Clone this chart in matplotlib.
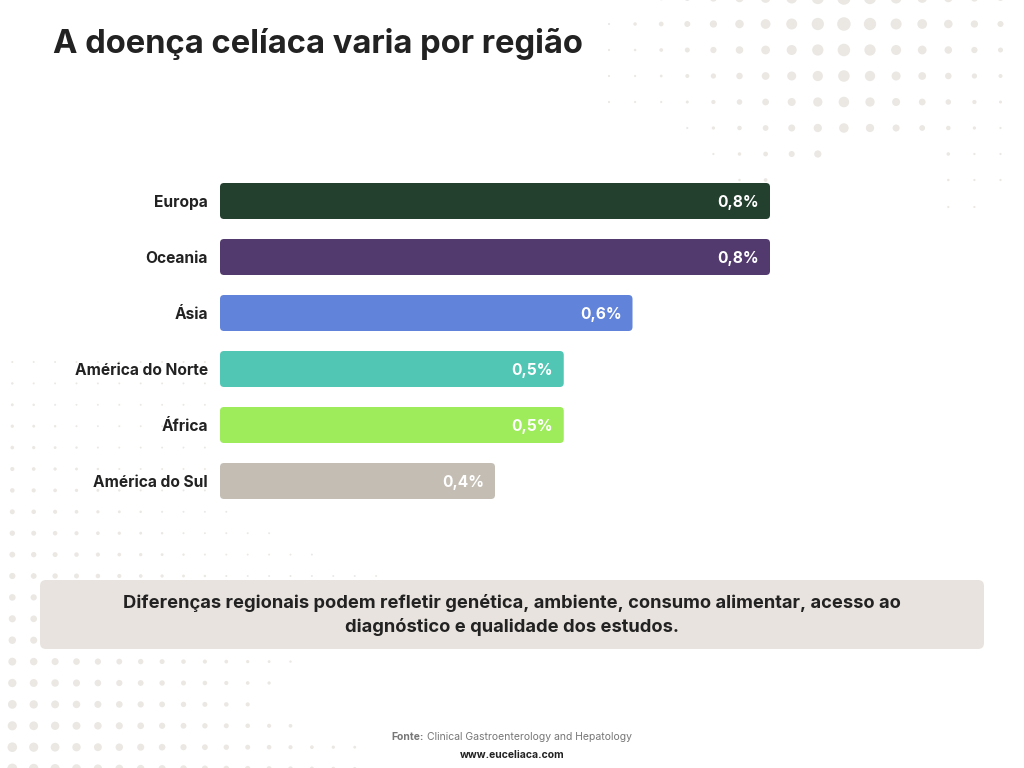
import numpy as np
import matplotlib.pyplot as plt
from matplotlib.patches import FancyBboxPatch

plt.rcParams['font.family'] = ['Inter', 'DejaVu Sans']

regioes = ['Europa', 'Oceania', 'Ásia', 'América do Norte', 'África', 'América do Sul']
prevalencia = [0.8, 0.8, 0.6, 0.5, 0.5, 0.4]
rotulos = ['0,8%', '0,8%', '0,6%', '0,5%', '0,5%', '0,4%']
cores = ['#233f2e', '#533a6e', '#6183da', '#52c6b4', '#9eeb5c', '#c4bdb3']

titulo = 'A doença celíaca varia por região'
nota = ('Diferenças regionais podem refletir genética, ambiente, consumo alimentar, acesso ao\n'
        'diagnóstico e qualidade dos estudos.')
fonte = 'Clinical Gastroenterology and Hepatology'
site = 'www.euceliaca.com'

W, H = 1024, 768
fig = plt.figure(figsize=(W / 100, H / 100), dpi=100)
fig.patch.set_facecolor('white')

# fundo em pixels
bg = fig.add_axes([0, 0, 1, 1], zorder=0)
bg.set_xlim(0, W)
bg.set_ylim(H, 0)
bg.axis('off')

dot_color = '#ebe7e3'

# pontos decorativos no canto superior direito
tr_x = [609 + 26.1 * k for k in range(16)]
tr_rows = {
    -2: range(2, 16),
    24: range(0, 16),
    50: range(0, 16),
    76: range(0, 16),
    102: range(0, 16),
    128: range(3, 16),
    154: list(range(4, 9)) + list(range(13, 16)),
    180: [5, 6, 13, 14, 15],
    207: [13, 14],
}
xs, ys, ss = [], [], []
for y, cols in tr_rows.items():
    for k in cols:
        x = tr_x[k]
        d = 13.5 - abs(x - 844) / 26.0 * 1.25 - max(y - 24, 0) / 26.0 * 1.0
        d = max(d, 2.2)
        xs.append(x); ys.append(y); ss.append((d * 0.72) ** 2)
bg.scatter(xs, ys, s=ss, color=dot_color, linewidths=0)

# pontos decorativos no canto inferior esquerdo
bl_x = [12.3 + 21.4 * k for k in range(18)]
bl_counts = [10, 10, 10, 10, 10, 10, 10, 11, 13, 15, 18, 2, 2, 2, 14, 13, 12, 14, 17, 17]
xs, ys, ss = [], [], []
for r, n in enumerate(bl_counts):
    y = 362 + 21.4 * r
    for k in range(n):
        x = bl_x[k]
        d = 2.0 + r * 0.42 - k * 0.42
        d = max(d, 1.9)
        xs.append(x); ys.append(y); ss.append((d * 0.72) ** 2)
bg.scatter(xs, ys, s=ss, color=dot_color, linewidths=0)

# caixa de nota
box = FancyBboxPatch((40, 580), 944, 69, boxstyle='round,pad=0,rounding_size=6',
                     facecolor='#e8e3de', edgecolor='none', zorder=2)
bg.add_patch(box)
bg.text(512, 615, nota, ha='center', va='center', fontsize=13.2, fontweight='bold',
        color='#222222', linespacing=1.38, zorder=3)

# título
bg.text(53, 44, titulo, ha='left', va='center', fontsize=23.6, fontweight='bold',
        color='#222222')

# rodapé
bg.text(391, 737, 'Fonte:', ha='left', va='center', fontsize=7.5, fontweight='bold',
        color='#777777')
bg.text(427, 737, fonte, ha='left', va='center', fontsize=7.5, color='#777777')
bg.text(512, 755, site, ha='center', va='center', fontsize=7.5, fontweight='bold',
        color='#222222')

# gráfico de barras
ax = fig.add_axes([220 / W, (H - 509) / H, 687.5 / W, 336 / H], zorder=1)
ax.patch.set_alpha(0)
ax.set_xlim(0, 1.0)
ax.set_ylim(len(regioes) - 0.5, -0.5)
for s in ax.spines.values():
    s.set_visible(False)
ax.set_xticks([])
ax.set_yticks(range(len(regioes)))
ax.set_yticklabels(regioes, fontsize=11.2, fontweight='bold', color='#222222')
ax.tick_params(axis='y', length=0, pad=8.6)

bh = 36 / 56
aspect = (1 / 56) / (1 / 687.5)
for i, (v, c, lab) in enumerate(zip(prevalencia, cores, rotulos)):
    p = FancyBboxPatch((0, i - bh / 2), v, bh, boxstyle='round,pad=0,rounding_size=0.0058',
                       mutation_aspect=aspect, facecolor=c, edgecolor='none')
    ax.add_patch(p)
    ax.text(v - 11 / 687.5, i, lab, ha='right', va='center_baseline', fontsize=11.2,
            fontweight='bold', color='white')

fig.savefig('out.png', dpi=100, facecolor='white')
